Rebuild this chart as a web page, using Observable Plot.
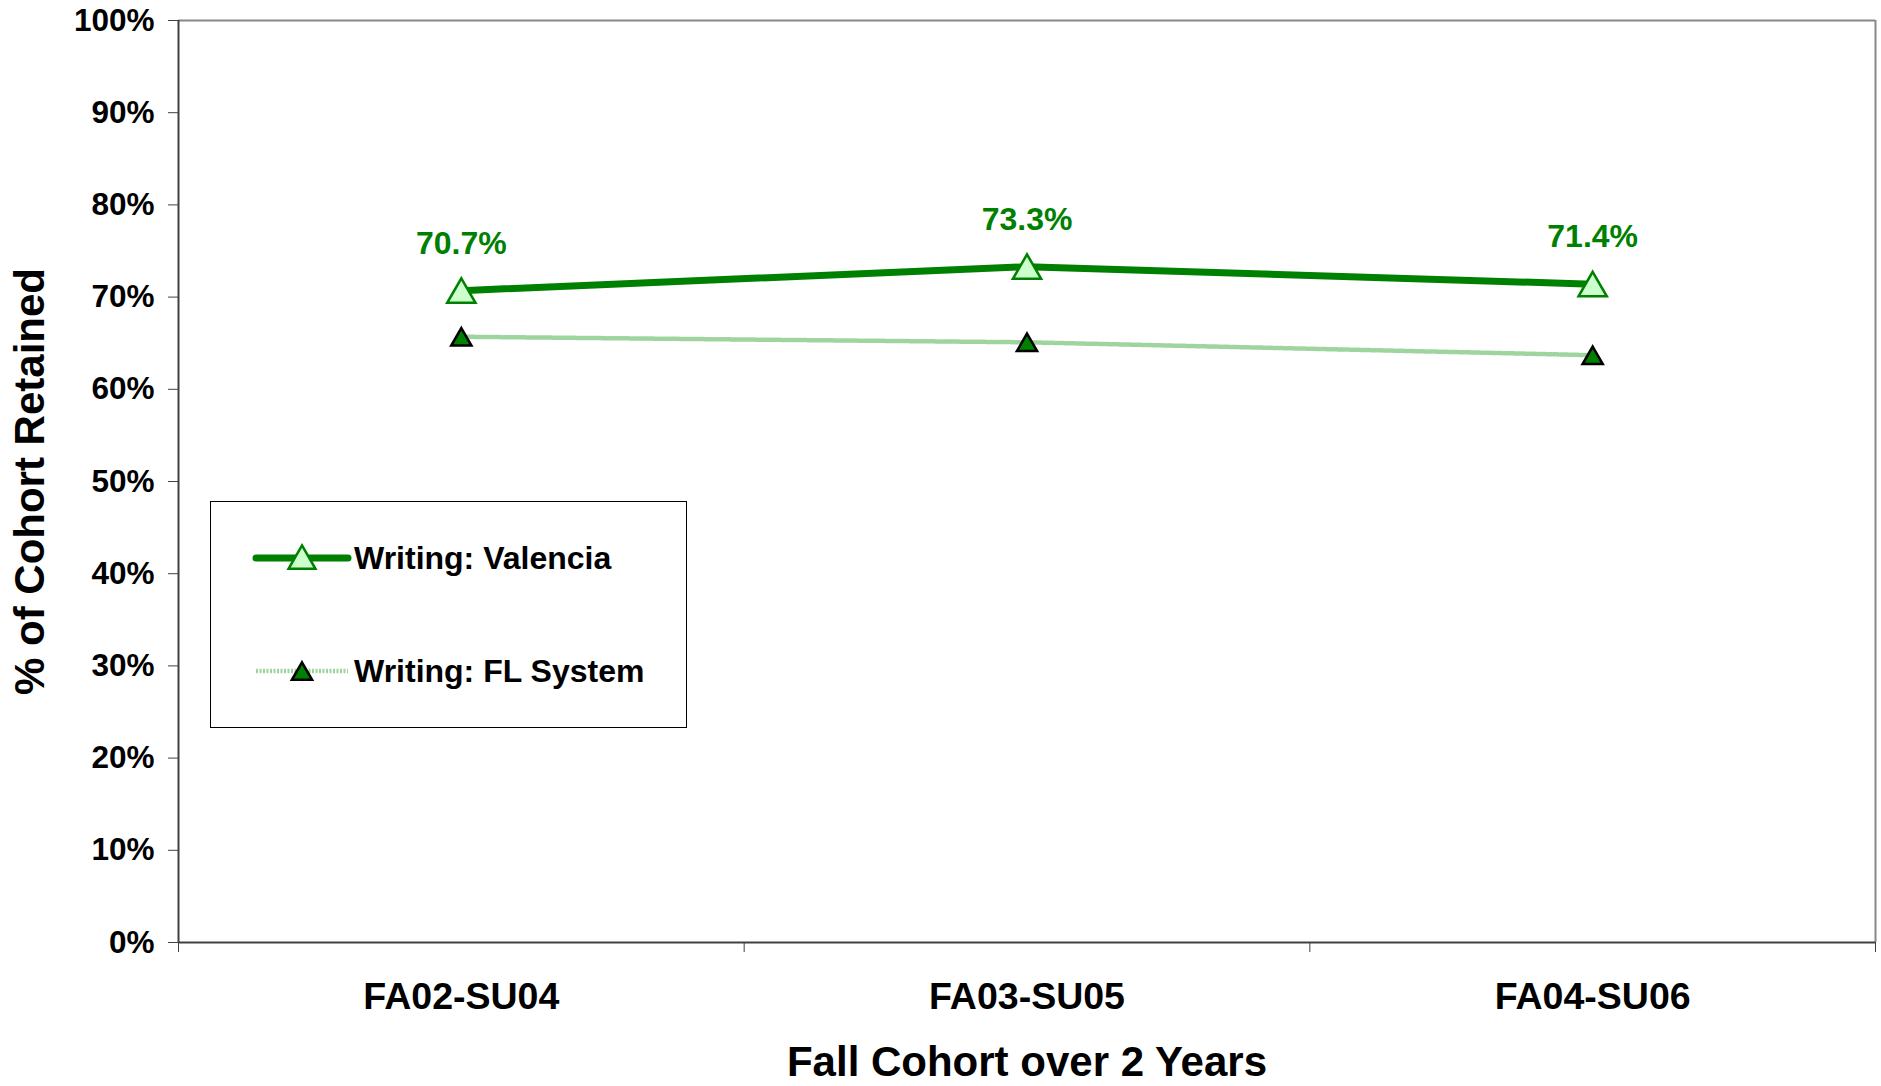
<!DOCTYPE html>
<html><head><meta charset="utf-8">
<script src="https://cdn.jsdelivr.net/npm/d3@7"></script>
<script src="https://cdn.jsdelivr.net/npm/@observablehq/plot@0.6"></script>
<style>
body{margin:0;background:#fff;font-family:"Liberation Sans",Arial,sans-serif;}
#wrap{position:relative;width:1881px;height:1086px;}
#legend{position:absolute;left:210px;top:501px;width:477px;height:227px;border:1.5px solid #000;box-sizing:border-box;background:#fff;}
#legend svg{display:block;}
</style></head><body><div id="wrap"><div id="chart"></div><div id="legend"></div></div>
<script>
const cohorts = ["FA02-SU04", "FA03-SU05", "FA04-SU06"];
const valencia = [0.707, 0.733, 0.714];
const flSystem = [0.657, 0.651, 0.637];
const valenciaLabels = ["70.7%", "73.3%", "71.4%"];
const yTicks = [0, 0.1, 0.2, 0.3, 0.4, 0.5, 0.6, 0.7, 0.8, 0.9, 1.0];
const yTickLabels = ["0%", "10%", "20%", "30%", "40%", "50%", "60%", "70%", "80%", "90%", "100%"];
const seriesNames = ["Writing: Valencia", "Writing: FL System"];
const xTitle = "Fall Cohort over 2 Years";
const yTitle = "% of Cohort Retained";
const colors = {valenciaLine: "#008000", valenciaFill: "#ccffcc", flLine: "#9ed49e", flFill: "#008000"};

const centers = cohorts.map((c, i) => i + 0.5);
const bounds = [0, 1, 2, 3];
const valData = cohorts.map((c, i) => ({x: centers[i], y: valencia[i], label: valenciaLabels[i]}));
const flData = cohorts.map((c, i) => ({x: centers[i], y: flSystem[i]}));

const font = '"Liberation Sans", Arial, sans-serif';

const chart = Plot.plot({
  width: 1881,
  height: 1086,
  marginLeft: 178,
  marginRight: 6,
  marginTop: 20,
  marginBottom: 144,
  style: {fontFamily: font, background: "#fff", color: "#000"},
  x: {type: "linear", domain: [0, 3]},
  y: {domain: [0, 1]},
  marks: [
    Plot.ruleY([1], {stroke: "#888", strokeWidth: 2}),
    Plot.ruleX([3], {stroke: "#888", strokeWidth: 2}),
    Plot.axisY({ticks: yTicks, tickFormat: (d) => yTickLabels[yTicks.indexOf(d)], tickSize: 10, tickPadding: 14, fontSize: 31.5, fontWeight: "bold", stroke: "#404040", strokeOpacity: 1, label: null}),
    Plot.axisX({ticks: bounds, tickSize: 10, tickFormat: () => "", stroke: "#404040", strokeOpacity: 1, label: null}),
    Plot.axisX({ticks: centers, tickSize: 0, tickPadding: 40, tickFormat: (d) => cohorts[centers.indexOf(d)], fontSize: 37.5, fontWeight: "bold", label: null}),
    Plot.text([yTitle], {frameAnchor: "left", textAnchor: "middle", rotate: -90, dx: -148, fontSize: 42, fontWeight: "bold", fill: "#000"}),
    Plot.text([xTitle], {frameAnchor: "bottom", dy: 133, fontSize: 42, fontWeight: "bold", fill: "#000"}),
    Plot.ruleX([0], {stroke: "#404040", strokeWidth: 2}),
    Plot.ruleY([0], {stroke: "#404040", strokeWidth: 2}),
    Plot.line(flData, {x: "x", y: "y", stroke: colors.flLine, strokeWidth: 4.5, strokeDasharray: "2,1.5"}),
    Plot.line(valData, {x: "x", y: "y", stroke: colors.valenciaLine, strokeWidth: 7}),
    Plot.dot(flData, {x: "x", y: "y", symbol: "triangle", r: 7.5, fill: colors.flFill, stroke: "#000", strokeWidth: 2.5, dy: 3}),
    Plot.dot(valData, {x: "x", y: "y", symbol: "triangle", r: 10.5, fill: colors.valenciaFill, stroke: colors.valenciaLine, strokeWidth: 2.5, dy: 4}),
    Plot.text(valData, {x: "x", y: "y", text: "label", dy: -47, fill: colors.valenciaLine, fontSize: 32, fontWeight: "bold"})
  ]
});
document.getElementById("chart").appendChild(chart);

// Legend
const lg = d3.select("#legend").append("svg").attr("width", 474).attr("height", 224);
const rows = [
  {name: seriesNames[0], y: 56, line: {stroke: colors.valenciaLine, w: 7, dash: null, cap: "round"}, dot: {fill: colors.valenciaFill, stroke: colors.valenciaLine, r: 10}},
  {name: seriesNames[1], y: 169, line: {stroke: colors.flLine, w: 4.5, dash: "2,1.5", cap: "butt"}, dot: {fill: colors.flFill, stroke: "#000", r: 7.5}}
];
const tri = (r) => d3.symbol(d3.symbolTriangle, Math.PI * r * r)();
rows.forEach((row) => {
  lg.append("line").attr("x1", 45).attr("x2", 137).attr("y1", row.y).attr("y2", row.y)
    .attr("stroke", row.line.stroke).attr("stroke-width", row.line.w)
    .attr("stroke-linecap", row.line.cap).attr("stroke-dasharray", row.line.dash);
  lg.append("path").attr("d", tri(row.dot.r)).attr("transform", `translate(91,${row.y + 3})`)
    .attr("fill", row.dot.fill).attr("stroke", row.dot.stroke).attr("stroke-width", 2.5);
  lg.append("text").attr("x", 143).attr("y", row.y).attr("dy", "0.35em")
    .attr("font-family", font).attr("font-size", 32).attr("font-weight", "bold").attr("fill", "#000")
    .text(row.name);
});
</script></body></html>
